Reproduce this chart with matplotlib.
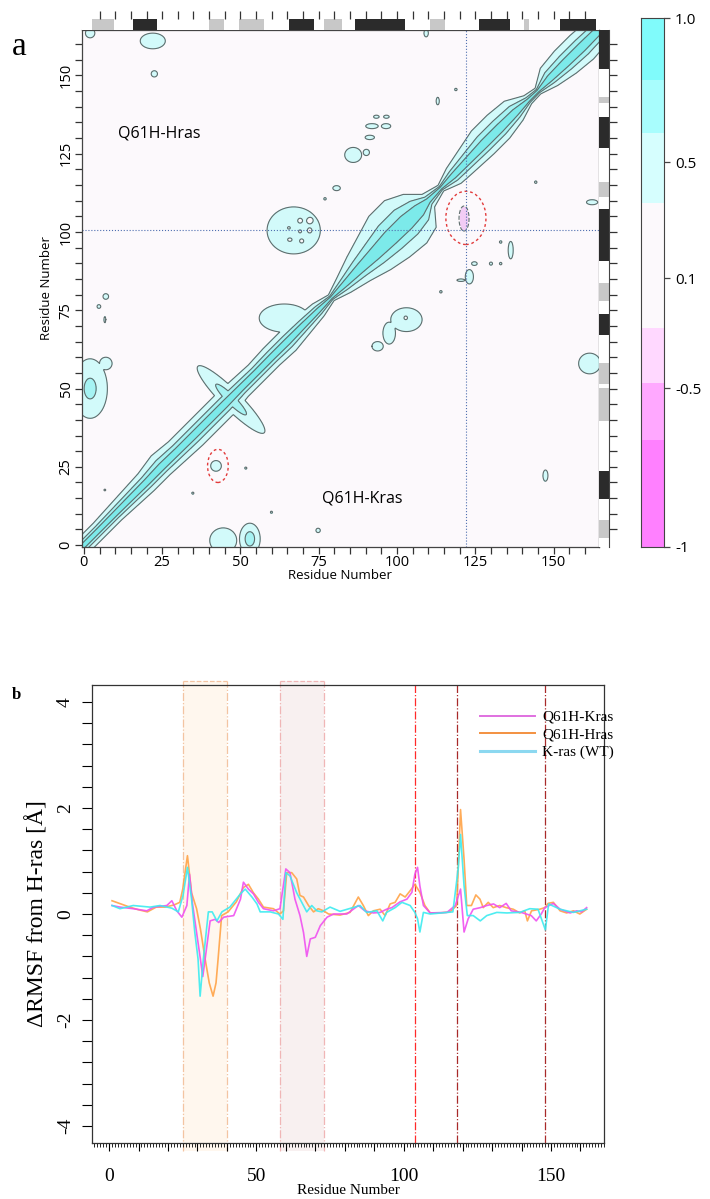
import numpy as np
import matplotlib.pyplot as plt
from matplotlib.patches import Ellipse, Rectangle
from matplotlib.lines import Line2D
from matplotlib.ticker import MultipleLocator, FixedLocator

W, H = 710, 1199

# ---------------- panel a: cross-correlation map ----------------
# outer (0.25) contour half-width of the diagonal band, above (Hras) and below (Kras)
diag_pos = [0, 5, 10, 15, 20, 25, 30, 35, 40, 45, 50, 55, 60, 65, 70, 75, 79, 83,
            88, 93, 98, 103, 107, 110, 114, 118, 123, 128, 133, 138, 142, 145,
            149, 154, 159, 166]
diag_upper = [4, 4, 4.5, 5, 5.5, 7, 6, 6, 6, 6, 5.5, 5, 5.5, 5.5, 5, 4, 1.8, 4.5,
              8, 11, 14, 14, 10, 4, 1.8, 4.5, 6.5, 8.5, 8.5, 7.5, 3, 1.8,
              6.5, 7.5, 7.5, 6.5]
diag_lower = [4, 4, 4, 4.5, 5, 5, 5.5, 6, 6, 6, 5, 5, 5, 5.5, 4.5, 3.5, 1.8, 4.5,
              7, 10, 12, 13, 11, 4, 1.8, 5, 5.5, 6, 6, 4.5, 2, 1.8,
              4.5, 6.5, 7.5, 6.5]

# off-diagonal patches: x, y, half-width, half-height, peak, angle
hras_spots = [
    (67, 100.5, 8.5, 7.5, 0.5, 0), (86, 124.6, 2.7, 2.4, 0.33, 0), (90.2, 125.4, 1, 1, 0.3, 0),
    (92, 133.8, 2, 0.8, 0.3, 0), (96.5, 133.8, 1.5, 0.8, 0.3, 0), (91.3, 130.2, 1.5, 0.7, 0.3, 0),
    (93.4, 136.8, 0.9, 0.5, 0.3, 0), (96.6, 136.8, 0.9, 0.5, 0.3, 0), (113, 141.8, 0.5, 1.2, 0.3, 0),
    (118.8, 145.5, 0.4, 0.4, 0.3, 0), (109.3, 163.5, 0.7, 1.2, 0.3, 0), (80.7, 114, 1.2, 0.8, 0.3, 0),
    (77, 110.6, 0.4, 0.4, 0.3, 0), (64, 72.5, 8, 4.5, 0.5, 0), (47, 46.5, 15, 3, 0.6, 135),
    (2, 50, 5.5, 9.5, 0.55, 0), (7, 58, 2, 2, 0.35, 0), (7, 79.4, 0.9, 0.9, 0.3, 0),
    (4.8, 76.2, 0.6, 0.6, 0.3, 0), (6.7, 72, 0.3, 1, 0.3, 0), (2, 163.5, 1.5, 1.5, 0.3, 0),
    (22, 161, 4, 2.5, 0.4, 0), (22.5, 150.5, 1, 1, 0.3, 0),
    # small holes inside the patch near (67, 100)
    (69, 103.5, 0.45, 0.45, -0.3, 0), (72, 103.5, 0.4, 0.4, -0.3, 0), (65.5, 101.3, 0.4, 0.35, -0.3, 0),
    (69, 100.2, 0.4, 0.4, -0.3, 0), (72, 100.5, 0.35, 0.4, -0.3, 0), (65.8, 97.6, 0.45, 0.35, -0.3, 0),
    (69.5, 97.2, 0.35, 0.35, -0.3, 0),
]
kras_spots = [
    (121.4, 104.3, 1.6, 4, -0.4, 0), (103, 72, 5, 3.8, 0.5, 0), (102.8, 72.5, 0.5, 0.5, -0.3, 0),
    (97.5, 67.7, 2, 3.5, 0.35, 0),
    (93.8, 63.5, 1.8, 1.5, 0.3, 0), (44.5, 1.5, 4.3, 4, 0.45, 0), (53, 2, 3.3, 5, 0.6, 0),
    (74.8, 4.7, 0.7, 0.7, 0.3, 0), (6.7, 17.6, 0.3, 0.3, 0.3, 0), (34.8, 16.6, 0.35, 0.35, 0.3, 0),
    (51.7, 24.6, 0.35, 0.35, 0.3, 0), (59.9, 10.5, 0.35, 0.35, 0.3, 0), (42.2, 25.3, 1.7, 1.7, 0.33, 0),
    (136.3, 94.2, 0.8, 2.8, 0.3, 0), (133.1, 96.8, 0.4, 0.4, 0.3, 0), (133.1, 89.9, 0.4, 0.4, 0.3, 0),
    (130, 89.9, 0.5, 0.5, 0.3, 0), (124.7, 89.9, 0.9, 0.6, 0.3, 0), (123.1, 85.7, 1.3, 2.3, 0.35, 0),
    (120.4, 84.6, 1.3, 0.4, 0.3, 0), (114, 80.9, 0.4, 0.4, 0.3, 0), (144.3, 115.9, 0.4, 0.4, 0.3, 0),
    (162.3, 109.5, 1.8, 0.8, 0.3, 0), (147.4, 22.2, 0.8, 1.8, 0.3, 0), (161.5, 58, 3.5, 3.3, 0.5, 0),
]

levels = [-1, -0.75, -0.5, -0.25, 0.25, 0.5, 0.75, 1.01]
band_colors = ['#FF80FF', '#FFA8FF', '#F2CCF5', '#FCF9FC', '#D2FAFA', '#A6F3F3', '#7CEAEA']
key_colors = ['#FF80FF', '#FFA8FF', '#FFD8FF', '#FCF9FC', '#D6FEFE', '#A8FDFD', '#80FBFB']

# secondary structure (start, end)
top_helix = [(15.7, 23.5), (65.6, 73.5), (86.7, 102.5), (126.2, 136.1), (152, 163.4)]
top_strand = [(2.5, 9.5), (39.8, 44.6), (49.5, 57.6), (76.6, 82.5), (110.4, 115.4), (140.7, 142.3)]
right_helix = [(14.6, 23.8), (67, 73.9), (90.6, 107.3), (126.9, 136.7), (152, 166)]
right_strand = [(2.2, 8.1), (39.5, 50.3), (51.3, 58.2), (77.8, 83.7), (111.2, 116.1), (141.3, 143)]

cbar_tick_labels = ['1.0', '0.5', '0.1', '-0.5', '-1']

# ---------------- panel b: delta RMSF ----------------
res_kras = [1, 3.7, 8.2, 12.8, 15.1, 19.6, 21.3, 23, 24.7, 26.4, 27.3, 28.3, 29.7, 31, 31.8, 32.6,
            34.3, 36, 37.2, 38.9, 42.3, 44.6, 45.6, 47.3, 49, 50.7, 52.4, 55.8, 58, 60, 61.4,
            63.1, 64.8, 66, 67.1, 68.3, 70, 71.7, 74, 76.2, 80.7, 84.6, 86.8, 89.7, 92, 94.2,
            96, 98.8, 101.1, 102.8, 103.8, 104.7, 105.5, 106.7, 109, 114.7, 117.5, 119.3,
            120.5, 121.9, 123.6, 126, 128.2, 130.5, 132.6, 134.8, 136.5, 139.9, 143.3, 145,
            146.7, 147.9, 150.8, 153.1, 156.5, 158.7, 160.4, 162.1]
val_kras = [0.16, 0.13, 0.1, 0.06, 0.13, 0.16, 0.25, 0.06, -0.06, 0.16, 0.75, 0.2, -0.35, -0.85,
            -1.18, -0.85, -0.13, -0.1, -0.16, -0.06, -0.03, 0.28, 0.6, 0.47, 0.38, 0.22, 0.1,
            0.06, 0.1, 0.85, 0.78, 0.28, -0.03, -0.35, -0.8, -0.47, -0.44, -0.22, -0.06, 0.0,
            0.0, 0.16, 0.06, 0.02, 0.03, 0.09, 0.12, 0.23, 0.28, 0.41, 0.75, 0.88, 0.53, 0.16,
            0.02, 0.03, 0.16, 0.47, -0.34, -0.09, 0.09, 0.12, 0.16, 0.19, 0.12, 0.2, 0.06,
            0.03, -0.03, -0.13, 0.0, 0.12, 0.2, 0.09, 0.02, 0.06, 0.04, 0.12]

res_hras = [1, 4, 7, 10, 13, 16, 19, 22, 24, 25, 26.6, 28, 29.7, 31, 32.6, 34, 35.3, 36.3, 37,
            38.2, 40.4, 43.2, 45.6, 47.3, 49, 50.7, 52.4, 55.8, 58, 59.2, 60.3, 62, 63.7, 64.8,
            66, 67.7, 69.4, 71, 72.8, 74.5, 78.4, 81.8, 84.6, 86.3, 88, 89.7, 92, 93.7, 95.4,
            97.1, 98.8, 100.5, 102.2, 103.8, 105.5, 107.2, 109, 112.3, 115.7, 118, 119.3,
            120.5, 121.4, 123, 124.5, 125.9, 127, 128.7, 130.4, 132.6, 134.8, 137.2, 139.4,
            141.1, 142, 143.4, 146.2, 147.9, 149, 150.8, 153.1, 155.3, 157.6, 159.8, 162.1]
val_hras = [0.25, 0.19, 0.13, 0.08, 0.04, 0.13, 0.13, 0.17, 0.22, 0.47, 1.1, 0.4, 0.1, -0.28,
            -0.85, -1.3, -1.55, -1.3, -0.85, -0.03, 0.04, 0.23, 0.5, 0.56, 0.4, 0.28, 0.13,
            0.1, 0.0, 0.06, 0.78, 0.78, 0.66, 0.35, 0.32, 0.16, 0.04, 0.1, 0.06, 0.0, -0.02,
            0.03, 0.32, 0.16, -0.03, 0.06, 0.09, -0.03, 0.19, 0.22, 0.38, 0.32, 0.44, 0.56,
            0.41, 0.16, 0.02, 0.02, 0.04, 0.16, 1.97, 1.03, 0.16, 0.16, 0.36, 0.28, 0.12,
            0.22, 0.12, 0.16, 0.12, 0.09, 0.02, 0.06, -0.13, 0.06, 0.09, 0.12, 0.2, 0.22,
            0.06, 0.02, 0.06, 0.0, 0.09]

res_wt = [1, 3.7, 8.2, 13.9, 17.3, 21.3, 23.5, 25.1, 26.6, 28, 29.1, 30.2, 30.9, 32, 33.7, 35,
          36.6, 38.3, 41, 44.6, 46.2, 48.5, 50.2, 51.3, 54.7, 57.5, 59, 60, 61.4, 63.7, 65.4,
          67.1, 68.8, 70.5, 72.2, 75, 78.4, 85.2, 87.4, 90.9, 92.9, 94.2, 97.1, 99.4, 102.2,
          103.8, 104.7, 105.5, 106.7, 109, 116.7, 118.5, 119.3, 120.5, 121.6, 123.6, 126,
          128.2, 131.6, 135, 139.4, 142.8, 145.6, 148.1, 149.2, 153.1, 157.6, 162.1]
val_wt = [0.16, 0.1, 0.16, 0.13, 0.16, 0.11, 0.04, 0.35, 0.88, 0.28, -0.35, -0.85, -1.55, -0.85,
          0.04, 0.04, -0.13, 0.04, 0.13, 0.38, 0.47, 0.32, 0.19, 0.04, 0.04, 0.0, -0.1, 0.78,
          0.72, 0.4, 0.22, 0.04, 0.16, 0.06, 0.04, 0.13, 0.05, 0.16, 0.03, 0.06, -0.13, 0.03,
          0.12, 0.22, 0.16, 0.03, -0.09, -0.34, 0.03, 0.0, 0.04, 0.85, 1.5, 0.53, -0.03,
          -0.03, -0.13, -0.03, 0.03, 0.02, 0.03, 0.1, 0.09, -0.3, 0.19, 0.09, 0.03, 0.09]

switch_regions = [(25, 40), (58, 73)]
marker_lines = [104, 118, 148]

# ================= drawing =================
fig = plt.figure(figsize=(W / 100, H / 100), dpi=100)


def px_axes(x0, y0, x1, y1):
    return fig.add_axes([x0 / W, 1 - y1 / H, (x1 - x0) / W, (y1 - y0) / H])


sans = 'Open Sans'
serif = 'Liberation Serif'
lim = (-0.6, 164.5)

# ---- field for the map ----
grid = np.arange(-1, 166.01, 0.25)
gx, gy = np.meshgrid(grid, grid)
s = (gx + gy) / 2
d = gy - gx
w = np.where(d >= 0, np.interp(s, diag_pos, diag_upper), np.interp(s, diag_pos, diag_lower))
Z = np.exp(-np.log(4) * (np.abs(d) / w) ** 1.2)
spots = hras_spots + kras_spots
# raise the positive patches first, then cut the negative ones in
for bx, by, rx, ry, peak, ang in sorted(spots, key=lambda p: p[4] < 0):
    t = np.deg2rad(ang)
    u = (gx - bx) * np.cos(t) + (gy - by) * np.sin(t)
    v = -(gx - bx) * np.sin(t) + (gy - by) * np.cos(t)
    val = peak * np.exp(-np.log(abs(peak) / 0.25) * ((u / rx) ** 2 + (v / ry) ** 2))
    Z = np.maximum(Z, val) if peak > 0 else Z + val

axA = px_axes(82, 30, 599, 547)
axA.contourf(gx, gy, Z, levels=levels, colors=band_colors)
axA.contour(gx, gy, Z, levels=[-0.5, -0.25, 0.25, 0.5, 0.75], colors='#5F6D6D', linewidths=0.8)
axA.axvline(122, color='#4F6FB0', ls=':', lw=0.8)
axA.axhline(100.5, color='#4F6FB0', ls=':', lw=0.8)
axA.add_patch(Ellipse((122, 104.5), 12.8, 17, fill=False, ec='#E23B3B', ls=(0, (2, 2)), lw=1))
axA.add_patch(Ellipse((42.8, 25.3), 6.6, 10.6, fill=False, ec='#E23B3B', ls=(0, (2, 2)), lw=1))
axA.text(24, 131.5, 'Q61H-Hras', family=sans, fontsize=11.5, ha='center', va='center')
axA.text(89, 15, 'Q61H-Kras', family=sans, fontsize=11.5, ha='center', va='center')
axA.set_xlim(lim)
axA.set_ylim(lim)
for ax_ in (axA.xaxis, axA.yaxis):
    ax_.set_major_locator(FixedLocator(range(0, 165, 5)))
    ax_.set_major_formatter(plt.FuncFormatter(lambda v, p: str(int(v)) if v % 25 == 0 else ''))
axA.tick_params(length=5, width=0.9, color='#333333', labelsize=10.5, pad=1)
for lab in axA.get_xticklabels() + axA.get_yticklabels():
    lab.set_family(sans)
for lab in axA.get_yticklabels():
    lab.set_rotation(90)
    lab.set_va('center')
axA.set_xlabel('Residue Number', family=sans, fontsize=9.5, labelpad=-1)
axA.set_ylabel('Residue Number', family=sans, fontsize=9.5, labelpad=4)
for sp in axA.spines.values():
    sp.set_color('#444444')
    sp.set_linewidth(0.9)

# secondary structure strips
axT = px_axes(82, 19, 599, 30)
for a, b in top_helix:
    axT.axvspan(a, b, color='#2B2B2B', lw=0)
for a, b in top_strand:
    axT.axvspan(a, b, color='#C8C8C8', lw=0)
axT.set_xlim(lim)
axT.set_ylim(0, 1)
axT.xaxis.set_major_locator(FixedLocator(range(5, 165, 5)))
axT.tick_params(bottom=False, labelbottom=False, top=True, labeltop=False, left=False,
                labelleft=False, length=6, width=0.9, color='#333333')
for sp in axT.spines.values():
    sp.set_visible(False)

axR = px_axes(599, 30, 609, 547)
for a, b in right_helix:
    axR.axhspan(a, b, color='#2B2B2B', lw=0)
for a, b in right_strand:
    axR.axhspan(a, b, color='#C8C8C8', lw=0)
axR.set_ylim(lim)
axR.set_xlim(0, 1)
axR.yaxis.set_major_locator(FixedLocator(range(5, 165, 5)))
axR.tick_params(left=False, labelleft=False, right=True, labelright=False, bottom=False,
                labelbottom=False, length=6, width=0.9, color='#333333')
for k in ('top', 'bottom', 'left'):
    axR.spines[k].set_visible(False)
axR.spines['right'].set_color('#444444')

# colour key
axC = px_axes(641, 18, 664, 547)
edges_px = [18, 80, 133, 203, 328, 383, 440, 547]
for i, c in enumerate(reversed(key_colors)):
    axC.axhspan(547 - edges_px[i + 1], 547 - edges_px[i], color=c, lw=0)
axC.set_ylim(0, 529)
axC.set_xlim(0, 1)
axC.set_xticks([])
axC.yaxis.tick_right()
axC.set_yticks([547 - p for p in [18, 162, 278, 388, 547]])
axC.set_yticklabels(cbar_tick_labels, family=sans, fontsize=11)
axC.tick_params(length=4, width=0.9, color='#444444', pad=4)
for sp in axC.spines.values():
    sp.set_color('#444444')

fig.text(19 / W, 1 - 47 / H, 'a', family=serif, fontsize=24, ha='center', va='center')

# ---- panel b ----
axB = px_axes(92, 685, 604, 1143)
for a, b in switch_regions:
    fc, ec = ('#FFF7EE', '#F3C4A2') if a < 50 else ('#F8F0F0', '#F0B6B6')
    axB.add_patch(Rectangle((a, -4.47), b - a, 8.87, fc=fc, ec='none', zorder=0, clip_on=False))
    for xv in (a, b):
        axB.plot([xv, xv], [-4.47, 4.4], color=ec, ls='-.', lw=0.9, clip_on=False, zorder=1)
    axB.plot([a, b], [4.4, 4.4], color=ec, ls='--', lw=0.9, clip_on=False, zorder=1)
for i, xv in enumerate(marker_lines):
    axB.axvline(xv, color='#FF2A2A' if i == 0 else '#A82A2A', ls='-.', lw=0.9, zorder=1)

axB.plot(res_hras, val_hras, color='#FFA347', lw=1.2, alpha=0.9, zorder=3)
axB.plot(res_kras, val_kras, color='#F050F0', lw=1.2, alpha=0.9, zorder=3)
axB.plot(res_wt, val_wt, color='#3CEBF0', lw=1.2, alpha=0.9, zorder=3)

handles = [Line2D([], [], color='#E070E0', lw=1.4),
           Line2D([], [], color='#F39040', lw=1.4),
           Line2D([], [], color='#8CD8F0', lw=2.2)]
axB.legend(handles, ['Q61H-Kras', 'Q61H-Hras', 'K-ras (WT)'], loc='upper left',
           bbox_to_anchor=(0.73, 0.975), frameon=False, handlelength=3.6, labelspacing=0.25,
           handletextpad=0.5, prop={'family': serif, 'size': 11})

axB.set_xlim(-5.8, 168)
axB.set_ylim(-4.32, 4.32)
axB.xaxis.set_major_locator(MultipleLocator(10))
axB.xaxis.set_minor_locator(MultipleLocator(1))
axB.xaxis.set_major_formatter(plt.FuncFormatter(lambda v, p: str(int(v)) if v % 50 == 0 else ''))
axB.yaxis.set_major_locator(MultipleLocator(0.4))
axB.yaxis.set_major_formatter(plt.FuncFormatter(
    lambda v, p: '%d' % round(v) if abs(v - round(v)) < 1e-6 and round(v) % 2 == 0 else ''))
axB.tick_params(axis='x', which='major', length=6, width=0.8, labelsize=14, pad=12)
axB.tick_params(axis='x', which='minor', length=3, width=0.6)
axB.tick_params(axis='y', length=7, width=0.8, labelsize=14, pad=6)
for lab in axB.get_xticklabels() + axB.get_yticklabels():
    lab.set_family(serif)
for lab in axB.get_yticklabels():
    lab.set_rotation(90)
    lab.set_va('center')
axB.set_xlabel('Residue Number', family=serif, fontsize=11, labelpad=-1)
axB.set_ylabel('\u0394RMSF from H-ras [\u00c5]', family=serif, fontsize=17, labelpad=6)
for sp in axB.spines.values():
    sp.set_color('#333333')
    sp.set_linewidth(0.9)

fig.text(16 / W, 1 - 695 / H, 'b', family=serif, fontsize=12, fontweight='bold',
         ha='center', va='center')

fig.savefig('out.png', dpi=100)
